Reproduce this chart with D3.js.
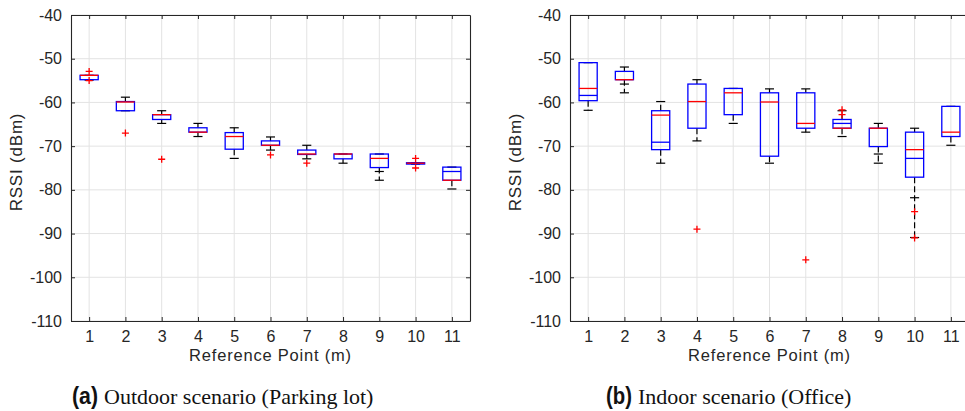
<!DOCTYPE html>
<html lang="en">

<head>
    <meta charset="utf-8">
    <title>RSSI box plots</title>
    <script type="text/javascript" src="https://cdn.jsdelivr.net/npm/d3@7"></script>
    <style>
        body {
            margin: 0;
            background: #fff;
        }
    </style>
</head>

<body>
    <script type="text/javascript">
        //Width and height
        var w = 965;
        var h = 411;

        // Data ---------------------------------------------------
        var points = [1, 2, 3, 4, 5, 6, 7, 8, 9, 10, 11];
        var yTicks = [-110, -100, -90, -80, -70, -60, -50, -40];

        // Outdoor (parking lot)
        var outLow = [-54.9, -61.9, -64.8, -67.8, -72.8, -70.9, -72.9, -73.9, -77.8, -74.1, -79.8];
        var outQ1 = [-54.8, -61.9, -63.9, -66.8, -70.7, -69.8, -71.9, -72.9, -74.9, -74.1, -77.8];
        var outMed = [-53.8, -59.9, -62.8, -66.8, -67.8, -69.8, -71.8, -71.8, -72.8, -73.9, -77.8];
        var outQ3 = [-53.8, -59.8, -62.8, -65.8, -66.9, -68.8, -70.9, -71.8, -71.8, -73.8, -74.8];
        var outHigh = [-53.8, -58.8, -61.9, -64.8, -65.8, -67.9, -69.8, -71.8, -71.8, -73.8, -74.8];
        var outOutliers = [[-52.9, -55.0], [-67], [-73], [], [], [-72], [-73.9], [], [], [-72.8, -75], []];
        var outInner = [null, null, null, null, null, null, null, null, null, null, -75.8];
        var outCaps = [[], [], [], [], [], [], [], [], [-75.8], [], []];

        // Indoor (office)
        var inLow = [-61.8, -57.8, -73.9, -68.8, -64.8, -73.9, -66.8, -67.8, -73.9, -90.9, -69.8];
        var inQ1 = [-59.6, -54.8, -70.8, -65.9, -62.8, -72.3, -65.9, -65.9, -70.1, -77.1, -67.8];
        var inMed = [-56.8, -54.8, -62.9, -59.8, -57.8, -59.9, -64.8, -65.9, -65.9, -70.8, -66.8];
        var inQ3 = [-50.9, -52.9, -61.9, -55.8, -56.8, -57.8, -57.8, -63.9, -65.9, -66.8, -60.9];
        var inHigh = [-50.9, -51.9, -59.8, -54.8, -56.8, -56.9, -56.9, -61.9, -64.8, -65.9, -60.9];
        var inOutliers = [[], [], [], [-89], [], [], [-96], [-61.7, -62.8], [], [-85, -91], []];
        var inInner = [-58.4, null, -69.1, null, null, null, null, -64.8, null, -72.8, null];
        var inCaps = [[], [-55.8], [], [], [], [], [], [], [-71.8], [-81.8], []];

        var svg = d3.select("body")
            .append("svg")
            .attr("width", w)
            .attr("height", h);

        var axisColor = "#262626";
        var gridColor = "#e3e3e3";
        var fontFam = "'Liberation Sans', Arial, Helvetica, sans-serif";

        function drawPanel(x0, x1, low, q1, med, q3, high, outliers, inner, caps) {
            var top = 15;
            var bottom = 321;

            var xScale = d3.scaleLinear()
                .domain([0.5, 11.5])
                .range([x0, x1]);

            var yScale = d3.scaleLinear()
                .domain([-110, -40])
                .range([bottom, top]);

            var g = svg.append("g");
            var step = xScale(2) - xScale(1);
            var bw = step * 0.5;
            var cw = step * 0.25;

            // grid
            g.selectAll("line.gx")
                .data(points)
                .enter()
                .append("line")
                .attr("x1", function(d) { return xScale(d); })
                .attr("x2", function(d) { return xScale(d); })
                .attr("y1", top)
                .attr("y2", bottom)
                .attr("stroke", gridColor);

            g.selectAll("line.gy")
                .data(yTicks)
                .enter()
                .append("line")
                .attr("x1", x0)
                .attr("x2", x1)
                .attr("y1", function(d) { return yScale(d); })
                .attr("y2", function(d) { return yScale(d); })
                .attr("stroke", gridColor);

            // axes - plain hyphen minus like the original
            var fmt = function(d) { return String(d); };
            var xAxis = d3.axisBottom(xScale).tickValues(points).tickSizeInner(-4).tickSizeOuter(0).tickPadding(10).tickFormat(fmt);
            var yAxis = d3.axisLeft(yScale).tickValues(yTicks).tickSizeInner(-4).tickSizeOuter(0).tickPadding(9).tickFormat(fmt);
            var xTop = d3.axisTop(xScale).tickValues(points).tickSizeInner(-4).tickSizeOuter(0).tickFormat("");
            var yRight = d3.axisRight(yScale).tickValues(yTicks).tickSizeInner(-4).tickSizeOuter(0).tickFormat("");

            var ax = [
                g.append("g").attr("transform", "translate(0," + bottom + ")").call(xAxis),
                g.append("g").attr("transform", "translate(" + x0 + ",0)").call(yAxis),
                g.append("g").attr("transform", "translate(0," + top + ")").call(xTop),
                g.append("g").attr("transform", "translate(" + x1 + ",0)").call(yRight)
            ];
            ax.forEach(function(a) {
                a.select(".domain").attr("stroke", axisColor).attr("stroke-width", 1.1);
                a.selectAll(".tick line").attr("stroke", axisColor);
                a.selectAll("text")
                    .attr("fill", axisColor)
                    .attr("font-family", fontFam)
                    .attr("font-size", "16px");
            });

            var idx = d3.range(points.length);

            // whiskers (dashed)
            g.selectAll("line.wu")
                .data(idx)
                .enter()
                .append("line")
                .attr("x1", function(i) { return xScale(points[i]); })
                .attr("x2", function(i) { return xScale(points[i]); })
                .attr("y1", function(i) { return yScale(q3[i]); })
                .attr("y2", function(i) { return yScale(high[i]); })
                .attr("stroke", "#000")
                .attr("stroke-width", 1.2)
                .attr("stroke-dasharray", "6,3");

            g.selectAll("line.wl")
                .data(idx)
                .enter()
                .append("line")
                .attr("x1", function(i) { return xScale(points[i]); })
                .attr("x2", function(i) { return xScale(points[i]); })
                .attr("y1", function(i) { return yScale(q1[i]); })
                .attr("y2", function(i) { return yScale(low[i]); })
                .attr("stroke", "#000")
                .attr("stroke-width", 1.2)
                .attr("stroke-dasharray", "6,3");

            // caps
            var capData = [];
            idx.forEach(function(i) {
                capData.push([i, high[i]]);
                capData.push([i, low[i]]);
                caps[i].forEach(function(v) { capData.push([i, v]); });
            });
            g.selectAll("line.cap")
                .data(capData)
                .enter()
                .append("line")
                .attr("x1", function(d) { return xScale(points[d[0]]) - cw / 2; })
                .attr("x2", function(d) { return xScale(points[d[0]]) + cw / 2; })
                .attr("y1", function(d) { return yScale(d[1]); })
                .attr("y2", function(d) { return yScale(d[1]); })
                .attr("stroke", "#000")
                .attr("stroke-width", 1.2);

            // boxes
            g.selectAll("rect.box")
                .data(idx)
                .enter()
                .append("rect")
                .attr("x", function(i) { return xScale(points[i]) - bw / 2; })
                .attr("width", bw)
                .attr("y", function(i) { return yScale(q3[i]); })
                .attr("height", function(i) { return Math.max(yScale(q1[i]) - yScale(q3[i]), 0.5); })
                .attr("fill", "none")
                .attr("stroke", "#0000ff")
                .attr("stroke-width", 1.3);

            // inner blue lines
            g.selectAll("line.inner")
                .data(idx.filter(function(i) { return inner[i] !== null; }))
                .enter()
                .append("line")
                .attr("x1", function(i) { return xScale(points[i]) - bw / 2; })
                .attr("x2", function(i) { return xScale(points[i]) + bw / 2; })
                .attr("y1", function(i) { return yScale(inner[i]); })
                .attr("y2", function(i) { return yScale(inner[i]); })
                .attr("stroke", "#0000ff")
                .attr("stroke-width", 1.3);

            // medians
            g.selectAll("line.med")
                .data(idx)
                .enter()
                .append("line")
                .attr("x1", function(i) { return xScale(points[i]) - bw / 2; })
                .attr("x2", function(i) { return xScale(points[i]) + bw / 2; })
                .attr("y1", function(i) { return yScale(med[i]); })
                .attr("y2", function(i) { return yScale(med[i]); })
                .attr("stroke", "#ff0000")
                .attr("stroke-width", 1.3);

            // outliers as red +
            var outData = [];
            idx.forEach(function(i) {
                outliers[i].forEach(function(v) { outData.push([points[i], v]); });
            });
            g.selectAll("path.out")
                .data(outData)
                .enter()
                .append("path")
                .attr("d", function(d) {
                    var cx = xScale(d[0]), cy = yScale(d[1]), s = 3.5;
                    return "M" + (cx - s) + "," + cy + "H" + (cx + s) + "M" + cx + "," + (cy - s) + "V" + (cy + s);
                })
                .attr("stroke", "#ff0000")
                .attr("stroke-width", 1.3)
                .attr("fill", "none");

            // axis titles
            g.append("text")
                .text("Reference Point (m)")
                .attr("x", (x0 + x1) / 2)
                .attr("y", 361)
                .attr("text-anchor", "middle")
                .attr("font-family", fontFam)
                .attr("font-size", "16.5px")
                .attr("letter-spacing", "0.8px")
                .attr("fill", axisColor);

            g.append("text")
                .text("RSSI (dBm)")
                .attr("transform", "translate(" + (x0 - 49) + "," + 162 + ") rotate(-90)")
                .attr("text-anchor", "middle")
                .attr("font-family", fontFam)
                .attr("font-size", "17px")
                .attr("letter-spacing", "0.8px")
                .attr("fill", axisColor);
        }

        drawPanel(71, 470, outLow, outQ1, outMed, outQ3, outHigh, outOutliers, outInner, outCaps);
        drawPanel(570, 969, inLow, inQ1, inMed, inQ3, inHigh, inOutliers, inInner, inCaps);

        // captions: condensed bold label + serif text
        function caption(x, label, txt) {
            svg.append("text")
                .text(label)
                .attr("x", x)
                .attr("y", 404)
                .attr("fill", "#111")
                .attr("font-family", "'Liberation Sans Narrow', 'Liberation Sans', Arial, sans-serif")
                .attr("font-weight", "bold")
                .attr("font-size", "23px")
                .attr("textLength", 26)
                .attr("lengthAdjust", "spacingAndGlyphs");
            svg.append("text")
                .text(txt)
                .attr("x", x + 32)
                .attr("y", 404)
                .attr("fill", "#111")
                .attr("font-family", "'Liberation Serif', 'Times New Roman', serif")
                .attr("font-size", "22px");
        }
        caption(72, "(a)", "Outdoor scenario (Parking lot)");
        caption(606, "(b)", "Indoor scenario (Office)");
    </script>

</body>

</html>
